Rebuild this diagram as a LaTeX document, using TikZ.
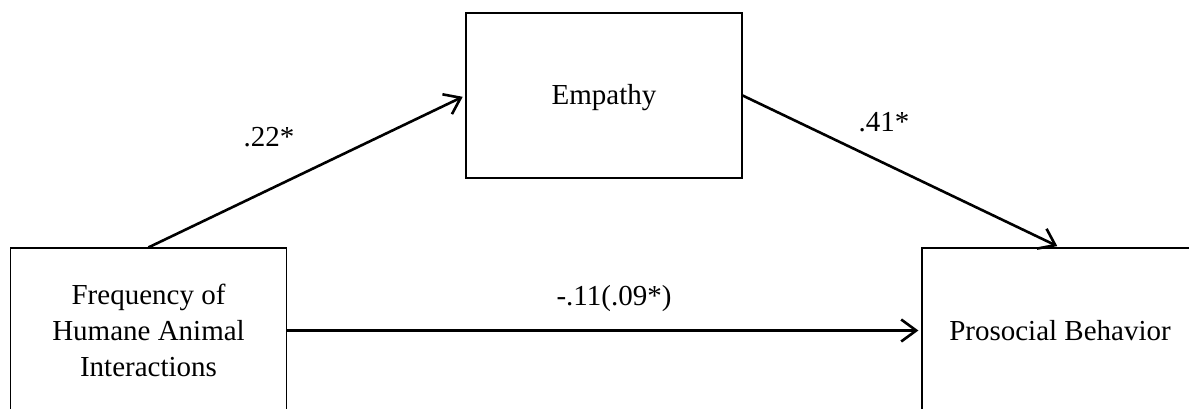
\documentclass[tikz,border=0pt]{standalone}
\usepackage{fontspec}
\setmainfont{Liberation Serif}
\usetikzlibrary{arrows.meta}
\begin{document}
\begin{tikzpicture}[x=1pt,y=-1pt,
  varbox/.style={draw,line width=1.2pt,minimum width=276pt,minimum height=165pt,inner sep=0pt,align=center,
    font=\fontsize{29}{36}\selectfont},
  oneline/.style={text height=19pt,text depth=0pt},
  path/.style={line width=2.6pt,-{Straight Barb[length=15pt,width=22pt,line width=2.6pt]},shorten >=3pt},
  lbl/.style={anchor=base,font=\fontsize{29}{36}\selectfont}]
\useasboundingbox (0,0) rectangle (1189,409);
\node[varbox] (fhai) at (148.5,330.5) {Frequency of\\Humane Animal\\Interactions};
\node[varbox,oneline] (emp) at (604,95.5) {Empathy};
\node[varbox,oneline] (pro) at (1060,330.5) {Prosocial Behavior};
\draw[path] (fhai.north) -- (emp.west);
\draw[path] (emp.east) -- (pro.north);
\draw[path] (fhai.east) -- (pro.west);
\node[lbl] (la) at (269,147) {.22*};
\node[lbl] (lb) at (884,132) {.41*};
\node[lbl] (lc) at (614,305) {-.11(.09*)};
\end{tikzpicture}
\end{document}
